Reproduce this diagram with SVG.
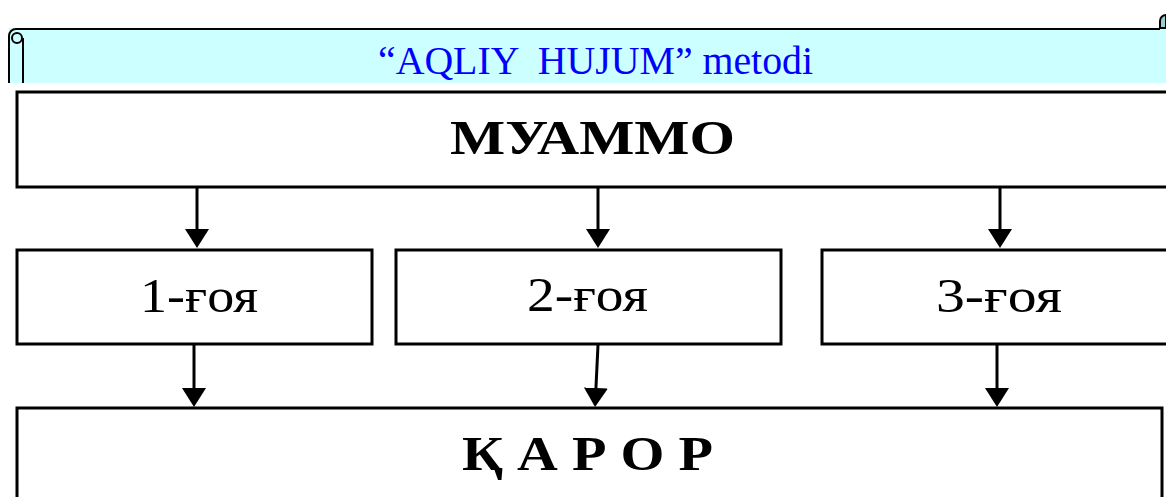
<svg xmlns="http://www.w3.org/2000/svg" width="1166" height="497" viewBox="0 0 1166 497">
  <style>
    .box { fill: #FFFFFF; stroke: #000000; stroke-width: 3; }
    .conn { stroke: #000000; stroke-width: 3; fill: none; }
    .serif { font-family: "Liberation Serif", "DejaVu Serif", serif; }
    .lbl { font-size: 48px; fill: #000000; }
    .big { font-size: 48px; font-weight: bold; fill: #000000; }
    .title { font-size: 41px; fill: #0000FF; white-space: pre; }
    .scroll { stroke: #000000; stroke-width: 2; fill: none; }
  </style>
  <defs>
    <marker id="arrow" markerUnits="userSpaceOnUse" markerWidth="20" markerHeight="24" refX="1" refY="12" orient="auto" viewBox="0 0 20 24">
      <path d="M0,0 L19,12 L0,24 z" fill="#000000"/>
    </marker>
  </defs>

  <g id="banner">
    <rect x="9" y="28" width="1160" height="55" fill="#CCFFFF"/>
    <path class="scroll" d="M9,83 V36 A7,7 0 0 1 16,29 H1160"/>
    <circle class="scroll" cx="17" cy="38" r="5" fill="#CCFFFF"/>
    <path class="scroll" d="M23,38 V83"/>
    <path d="M1160,28 V21 A6,6 0 0 1 1166,15 V28 z" fill="#99CCCC" stroke="#000000" stroke-width="2"/>
    <text class="serif title" x="378" y="74" xml:space="preserve" textLength="435" lengthAdjust="spacingAndGlyphs">“AQLIY  HUJUM” metodi</text>
  </g>

  <g id="muammo">
    <rect class="box" x="17" y="92" width="1160" height="95"/>
    <text class="serif big" x="450" y="154" textLength="285" lengthAdjust="spacingAndGlyphs">МУАММО</text>
  </g>

  <g id="idea1">
    <rect class="box" x="17" y="250" width="355" height="94"/>
    <text class="serif lbl" x="140" y="312" textLength="118" lengthAdjust="spacingAndGlyphs">1-ғоя</text>
  </g>

  <g id="idea2">
    <rect class="box" x="396" y="250" width="385" height="94"/>
    <text class="serif lbl" x="527" y="311" textLength="121" lengthAdjust="spacingAndGlyphs">2-ғоя</text>
  </g>

  <g id="idea3">
    <rect class="box" x="822" y="250" width="360" height="94"/>
    <text class="serif lbl" x="936" y="312" textLength="126" lengthAdjust="spacingAndGlyphs">3-ғоя</text>
  </g>

  <g id="qaror">
    <rect class="box" x="17" y="408" width="1145" height="110"/>
    <text class="serif big" x="462" y="470" font-size="49" textLength="251" lengthAdjust="spacingAndGlyphs">Қ А Р О Р</text>
  </g>

  <g id="connectors">
    <line class="conn" x1="197" y1="188" x2="197" y2="230" marker-end="url(#arrow)"/>
    <line class="conn" x1="598" y1="188" x2="598" y2="230" marker-end="url(#arrow)"/>
    <line class="conn" x1="1000" y1="188" x2="1000" y2="230" marker-end="url(#arrow)"/>
    <line class="conn" x1="194" y1="345" x2="194" y2="389" marker-end="url(#arrow)"/>
    <line class="conn" x1="598" y1="345" x2="595.9" y2="389" marker-end="url(#arrow)"/>
    <line class="conn" x1="997" y1="345" x2="997" y2="389" marker-end="url(#arrow)"/>
  </g>
</svg>
